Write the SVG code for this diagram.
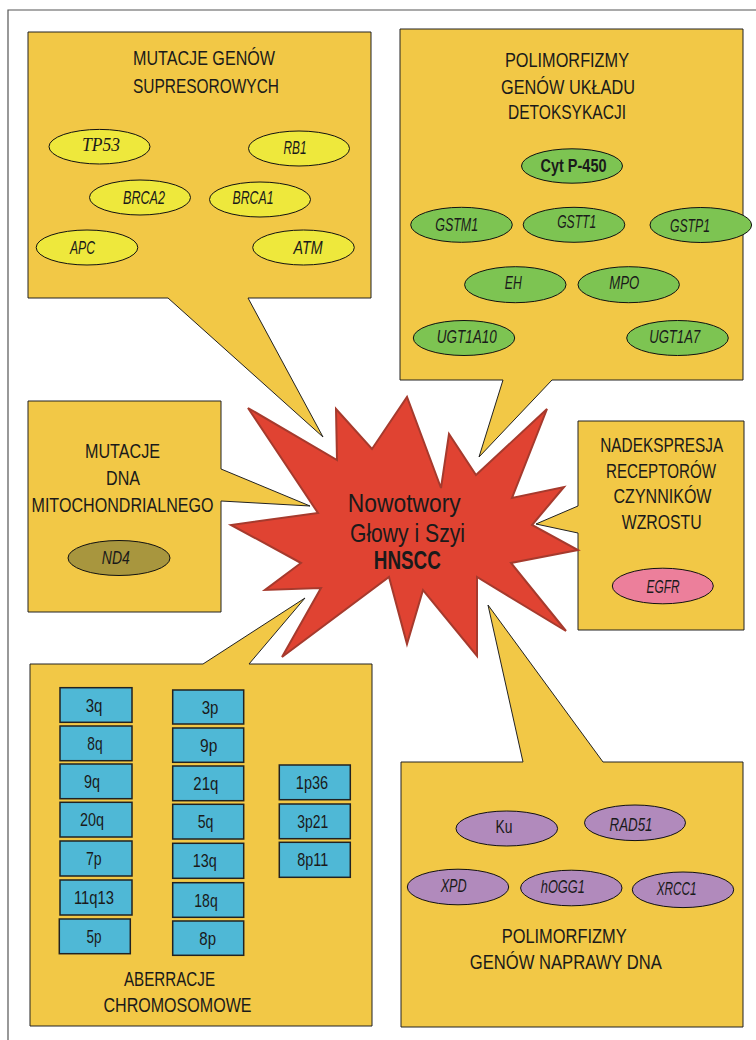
<svg xmlns="http://www.w3.org/2000/svg" width="756" height="1040" viewBox="0 0 756 1040">
<style>
.frame{fill:none;stroke:#555;stroke-width:1.2}
.box{fill:#F2C846;stroke:#222;stroke-width:1;stroke-linejoin:miter}
.star{fill:#E04332;stroke:#A63A2D;stroke-width:2;stroke-linejoin:miter}
.ell{stroke:#111;stroke-width:1}
.y{fill:#EEE83C}.g{fill:#7DC452}.o{fill:#A8963E}.p{fill:#EC7F9B}.v{fill:#B18ABC}
.chr{fill:#4FB8D6;stroke:#222;stroke-width:1.5}
text{font-family:"Liberation Sans Narrow","Liberation Sans",Arial,sans-serif;fill:#1a1a1a;text-anchor:middle}
.t{font-size:21px}
.e{font-size:18.5px;font-style:italic}
.c{font-size:19px}
.s{font-size:26px}
</style>
<g id="frame"><path class="frame" d="M8,1040 V10 H756"/></g>

<g id="connectors"></g>

<g id="box-supresor">
<path class="box" d="M28,32 H371 V298 H248 L323,437 L168,298 H28 Z"/>
<text class="t" x="204" y="65" textLength="142" lengthAdjust="spacingAndGlyphs">MUTACJE GENÓW</text>
<text class="t" x="206" y="93" textLength="146" lengthAdjust="spacingAndGlyphs">SUPRESOROWYCH</text>
<ellipse class="ell y" cx="99.5" cy="146.7" rx="50.5" ry="17.3"/>
<text class="e" x="101" y="151" style="font-family:'Liberation Serif',serif" textLength="38" lengthAdjust="spacingAndGlyphs">TP53</text>
<ellipse class="ell y" cx="299" cy="148.5" rx="50.5" ry="17.5"/>
<text class="e" x="295" y="154" textLength="23" lengthAdjust="spacingAndGlyphs">RB1</text>
<ellipse class="ell y" cx="140" cy="197.5" rx="50.5" ry="17.5"/>
<text class="e" x="144" y="204" textLength="42" lengthAdjust="spacingAndGlyphs">BRCA2</text>
<ellipse class="ell y" cx="260" cy="199.5" rx="50.5" ry="17.5"/>
<text class="e" x="253" y="204" textLength="41" lengthAdjust="spacingAndGlyphs">BRCA1</text>
<ellipse class="ell y" cx="87" cy="247.5" rx="50.8" ry="17.5"/>
<text class="e" x="82.5" y="254" textLength="25" lengthAdjust="spacingAndGlyphs">APC</text>
<ellipse class="ell y" cx="303.5" cy="247.5" rx="50.8" ry="17.5"/>
<text class="e" x="308" y="254" textLength="29" lengthAdjust="spacingAndGlyphs">ATM</text>
</g>

<g id="box-detoks">
<path class="box" d="M400,29 H743 V380 H552 L479,457 L503,380 H400 Z"/>
<text class="t" x="567" y="67" textLength="124" lengthAdjust="spacingAndGlyphs">POLIMORFIZMY</text>
<text class="t" x="568" y="93.5" textLength="134" lengthAdjust="spacingAndGlyphs">GENÓW UKŁADU</text>
<text class="t" x="567" y="119" textLength="118" lengthAdjust="spacingAndGlyphs">DETOKSYKACJI</text>
<ellipse class="ell g" cx="572" cy="166" rx="50.5" ry="17.2"/>
<text x="573.5" y="171.5" style="font-size:18px;font-weight:bold" textLength="66" lengthAdjust="spacingAndGlyphs">Cyt P-450</text>
<ellipse class="ell g" cx="461.5" cy="224.8" rx="50.8" ry="17.5"/>
<text class="e" x="456.7" y="230.7" textLength="43" lengthAdjust="spacingAndGlyphs">GSTM1</text>
<ellipse class="ell g" cx="574" cy="224.8" rx="50.8" ry="17.5"/>
<text class="e" x="576.7" y="228.3" textLength="39" lengthAdjust="spacingAndGlyphs">GSTT1</text>
<ellipse class="ell g" cx="700.8" cy="225" rx="50.8" ry="17.5"/>
<text class="e" x="690" y="231.7" textLength="40" lengthAdjust="spacingAndGlyphs">GSTP1</text>
<ellipse class="ell g" cx="515.3" cy="284.7" rx="50.7" ry="18"/>
<text class="e" x="513.3" y="289.3" textLength="17" lengthAdjust="spacingAndGlyphs">EH</text>
<ellipse class="ell g" cx="628.7" cy="284.7" rx="50.7" ry="18"/>
<text class="e" x="624.3" y="289.3" textLength="30" lengthAdjust="spacingAndGlyphs">MPO</text>
<ellipse class="ell g" cx="464" cy="338" rx="50.7" ry="17.5"/>
<text class="e" x="466.7" y="343.3" textLength="60" lengthAdjust="spacingAndGlyphs">UGT1A10</text>
<ellipse class="ell g" cx="677.5" cy="338" rx="50.8" ry="17.5"/>
<text class="e" x="674.7" y="343.3" textLength="51" lengthAdjust="spacingAndGlyphs">UGT1A7</text>
</g>

<g id="box-mito">
<path class="box" d="M28,401 H221 V469 L310,506 L221,501 V612 H28 Z"/>
<text class="t" x="122.5" y="458" textLength="75" lengthAdjust="spacingAndGlyphs">MUTACJE</text>
<text class="t" x="123" y="484.5" textLength="34" lengthAdjust="spacingAndGlyphs">DNA</text>
<text class="t" x="122.5" y="511.7" textLength="182" lengthAdjust="spacingAndGlyphs">MITOCHONDRIALNEGO</text>
<ellipse class="ell o" cx="119" cy="558" rx="51" ry="17.5"/>
<text class="e" x="115.8" y="564.3" textLength="28" lengthAdjust="spacingAndGlyphs">ND4</text>
</g>

<g id="box-egfr">
<path class="box" d="M578,421 H744 V630 H578 V533 L536,524 L578,506 Z"/>
<text class="t" x="661.7" y="452" textLength="123" lengthAdjust="spacingAndGlyphs">NADEKSPRESJA</text>
<text class="t" x="661" y="477.5" textLength="110" lengthAdjust="spacingAndGlyphs">RECEPTORÓW</text>
<text class="t" x="662.5" y="503" textLength="98" lengthAdjust="spacingAndGlyphs">CZYNNIKÓW</text>
<text class="t" x="661.7" y="528.5" textLength="80" lengthAdjust="spacingAndGlyphs">WZROSTU</text>
<ellipse class="ell p" cx="662.8" cy="586" rx="50.5" ry="17.8"/>
<text class="e" x="663" y="593" textLength="33" lengthAdjust="spacingAndGlyphs">EGFR</text>
</g>

<g id="box-chromosom">
<path class="box" d="M30,664 H203 L305,598 L249,664 H372 V1026 H30 Z"/>
<g id="col1">
<rect class="chr" x="60" y="687.7" width="72" height="34.6"/>
<text class="c" x="94" y="711.5" textLength="16.7" lengthAdjust="spacingAndGlyphs">3q</text>
<rect class="chr" x="60" y="726" width="72" height="34.7"/>
<text class="c" x="95" y="749.8" textLength="15.3" lengthAdjust="spacingAndGlyphs">8q</text>
<rect class="chr" x="60" y="764" width="72" height="34.7"/>
<text class="c" x="92" y="787.8" textLength="16" lengthAdjust="spacingAndGlyphs">9q</text>
<rect class="chr" x="60" y="802.3" width="72" height="34.7"/>
<text class="c" x="92" y="826.2" textLength="24" lengthAdjust="spacingAndGlyphs">20q</text>
<rect class="chr" x="60" y="841" width="72" height="35"/>
<text class="c" x="93.8" y="865" textLength="15.7" lengthAdjust="spacingAndGlyphs">7p</text>
<rect class="chr" x="60" y="880" width="72" height="35"/>
<text class="c" x="94" y="904" textLength="40" lengthAdjust="spacingAndGlyphs">11q13</text>
<rect class="chr" x="59.3" y="919" width="71" height="34.7"/>
<text class="c" x="94" y="942.8" textLength="15" lengthAdjust="spacingAndGlyphs">5p</text>
</g>
<g id="col2">
<rect class="chr" x="172.7" y="690" width="71" height="34"/>
<text class="c" x="210" y="713.5" textLength="16.7" lengthAdjust="spacingAndGlyphs">3p</text>
<rect class="chr" x="172.7" y="728" width="71" height="34.3"/>
<text class="c" x="208.7" y="751.7" textLength="17.3" lengthAdjust="spacingAndGlyphs">9p</text>
<rect class="chr" x="172.7" y="766" width="71" height="34.7"/>
<text class="c" x="205.8" y="789.8" textLength="25" lengthAdjust="spacingAndGlyphs">21q</text>
<rect class="chr" x="172.7" y="804.3" width="71" height="34.7"/>
<text class="c" x="205.5" y="828.2" textLength="15.7" lengthAdjust="spacingAndGlyphs">5q</text>
<rect class="chr" x="172.7" y="843.3" width="71" height="35"/>
<text class="c" x="204.7" y="867.3" textLength="24" lengthAdjust="spacingAndGlyphs">13q</text>
<rect class="chr" x="172.7" y="882.7" width="71" height="34.6"/>
<text class="c" x="206" y="906.5" textLength="23.3" lengthAdjust="spacingAndGlyphs">18q</text>
<rect class="chr" x="172.7" y="921" width="71" height="34.3"/>
<text class="c" x="207.7" y="944.7" textLength="16.7" lengthAdjust="spacingAndGlyphs">8p</text>
</g>
<g id="col3">
<rect class="chr" x="279.3" y="765" width="71" height="34.7"/>
<text class="c" x="312" y="788.8" textLength="32.3" lengthAdjust="spacingAndGlyphs">1p36</text>
<rect class="chr" x="279.3" y="804" width="71" height="34.7"/>
<text class="c" x="312.8" y="827.8" textLength="31" lengthAdjust="spacingAndGlyphs">3p21</text>
<rect class="chr" x="279.3" y="842.3" width="71" height="35"/>
<text class="c" x="312.8" y="866.3" textLength="31" lengthAdjust="spacingAndGlyphs">8p11</text>
</g>
<text class="t" x="169.5" y="986" textLength="91" lengthAdjust="spacingAndGlyphs">ABERRACJE</text>
<text class="t" x="177.5" y="1011.7" textLength="148" lengthAdjust="spacingAndGlyphs">CHROMOSOMOWE</text>
</g>

<g id="box-naprawa">
<path class="box" d="M401,762 H523 L488,605 L603,762 H743 V1027 H401 Z"/>
<ellipse class="ell v" cx="506.8" cy="828.5" rx="50.8" ry="17.5"/>
<text x="504" y="833.3" style="font-size:18.5px" textLength="17" lengthAdjust="spacingAndGlyphs">Ku</text>
<ellipse class="ell v" cx="635" cy="822.8" rx="50.5" ry="17.8"/>
<text class="e" x="631" y="830.7" textLength="43" lengthAdjust="spacingAndGlyphs">RAD51</text>
<ellipse class="ell v" cx="458" cy="887" rx="50.7" ry="17.8"/>
<text class="e" x="453.7" y="891.7" textLength="26" lengthAdjust="spacingAndGlyphs">XPD</text>
<ellipse class="ell v" cx="571.3" cy="888" rx="50.7" ry="17.8"/>
<text class="e" x="562.8" y="893.3" textLength="44" lengthAdjust="spacingAndGlyphs">hOGG1</text>
<ellipse class="ell v" cx="683" cy="889.8" rx="50.7" ry="17.8"/>
<text class="e" x="676.7" y="895" textLength="40" lengthAdjust="spacingAndGlyphs">XRCC1</text>
<text class="t" x="564.2" y="943" textLength="125" lengthAdjust="spacingAndGlyphs">POLIMORFIZMY</text>
<text class="t" x="565.8" y="969" textLength="192" lengthAdjust="spacingAndGlyphs">GENÓW NAPRAWY DNA</text>
</g>

<g id="hnscc">
<polygon class="star" points="248,408 337,460 336,409 372,449 407,397 441,488 449,434 476,475 547,409 512,498 564,487 532,525 578,550 511,563 566,631 477,577 477,656 423,590 407,644 389,577 282,657 321,588 265,590 301,563 231,525 318,513"/>
<text class="s" x="404.3" y="511.7" textLength="113" lengthAdjust="spacingAndGlyphs">Nowotwory</text>
<text class="s" x="407.5" y="542" textLength="115" lengthAdjust="spacingAndGlyphs">Głowy i Szyi</text>
<text class="s" x="407.3" y="569" style="font-weight:bold" textLength="67" lengthAdjust="spacingAndGlyphs">HNSCC</text>
</g>
</svg>
